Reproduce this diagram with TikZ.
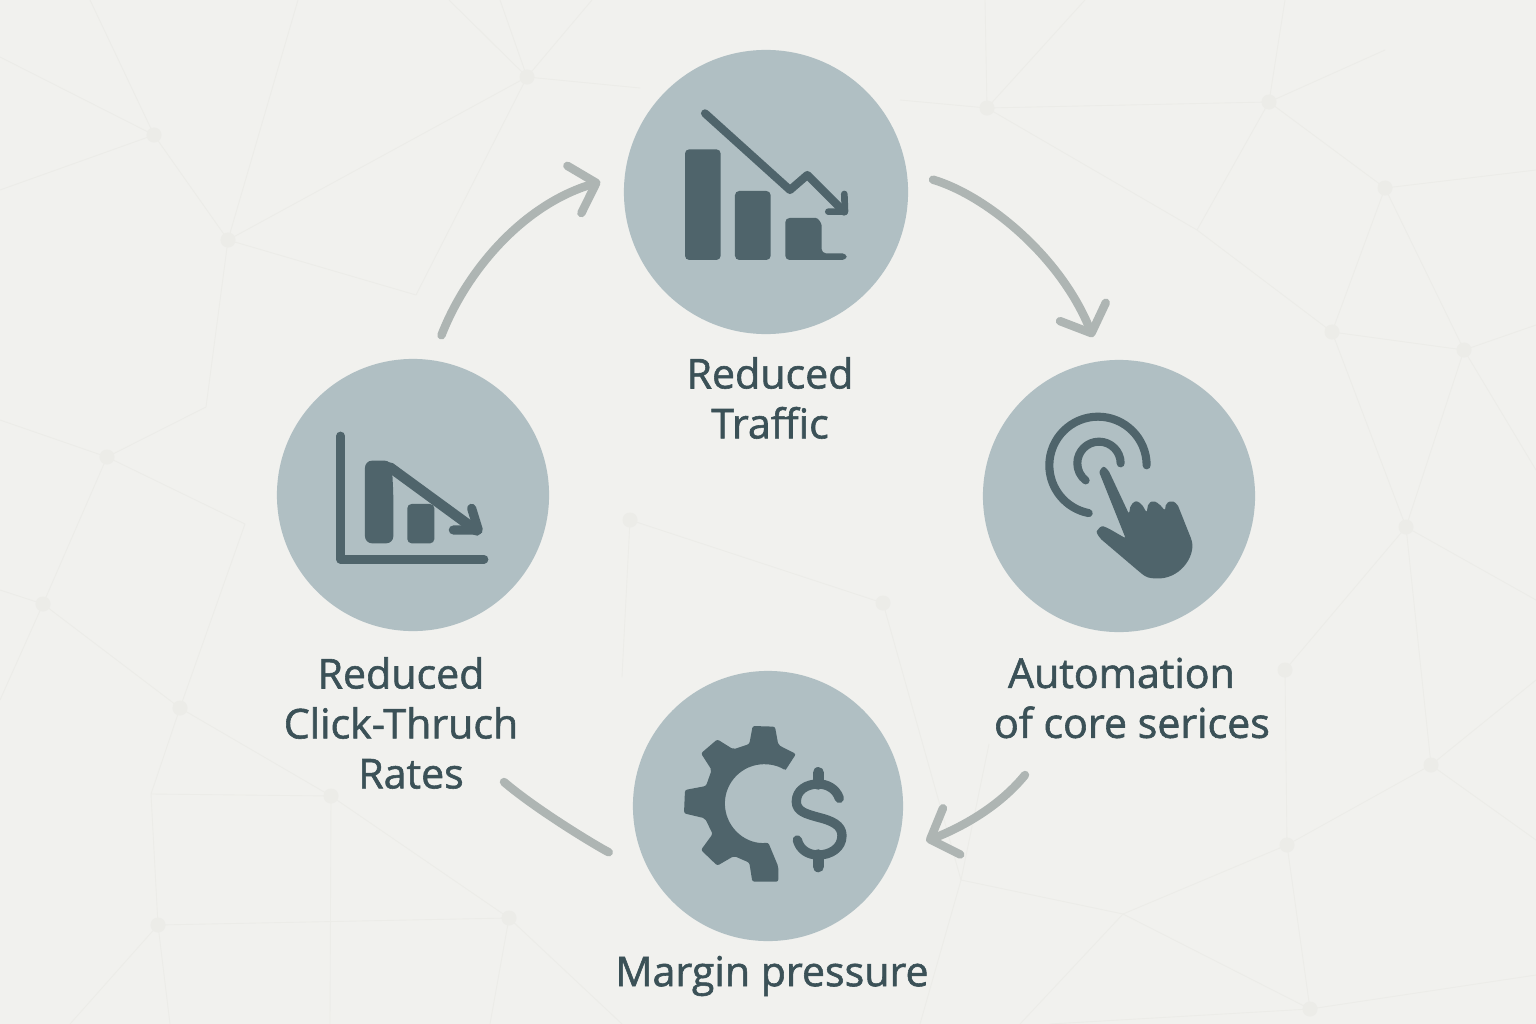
\documentclass[tikz,border=0pt]{standalone}
\usepackage{fontspec}
\setmainfont{Open Sans}
\newfontfamily\labelfont[FakeBold=1.4]{Open Sans}
\usetikzlibrary{arrows.meta}
\definecolor{paper}{HTML}{F1F1EE}
\definecolor{disc}{HTML}{B0BFC3}
\definecolor{glyph}{HTML}{4F646B}
\definecolor{ink}{HTML}{3B5157}
\definecolor{flowgray}{HTML}{AEB5B3}
\definecolor{meshgray}{HTML}{ECECE8}
\tikzset{
  stage/.style={circle,fill=disc,inner sep=0pt,minimum size=2.72cm},
  stagelabel/.style={align=center,text=ink,font=\labelfont\fontsize{11.7}{14.2}\selectfont},
  flow/.style={draw=flowgray,line width=2.4pt,line cap=round,
    -{Straight Barb[length=6.5pt,width=14pt,round]}},
  flowplain/.style={draw=flowgray,line width=2.4pt,line cap=round},
  icon/.style={fill=glyph,rounded corners=1.2pt},
  iconline/.style={draw=glyph,line cap=round,line join=round},
  meshline/.style={draw=meshgray,line width=0.25pt},
  meshdot/.style={circle,fill=meshgray,inner sep=0pt,minimum size=0.15cm}
}
\begin{document}
\begin{tikzpicture}[x=0.01cm,y=-0.01cm]
  \useasboundingbox (0,0) rectangle (1536,1024);
  \fill[paper] (0,0) rectangle (1536,1024);
  % Mesh
  \coordinate (ma) at (527,77);
  \coordinate (mb) at (154,135);
  \coordinate (mc) at (228,240);
  \coordinate (md) at (107,457);
  \coordinate (me) at (206,407);
  \coordinate (mf) at (43,604);
  \coordinate (mg) at (245,524);
  \coordinate (mh) at (180,708);
  \coordinate (mi) at (151,794);
  \coordinate (mj) at (331,796);
  \coordinate (mk) at (158,925);
  \coordinate (ml) at (509,918);
  \coordinate (mm) at (987,108);
  \coordinate (mn) at (1269,102);
  \coordinate (mo) at (1385,188);
  \coordinate (mp) at (1197,230);
  \coordinate (mq) at (1332,332);
  \coordinate (mr) at (1464,350);
  \coordinate (ms) at (1406,527);
  \coordinate (mt) at (1285,670);
  \coordinate (mu) at (1431,765);
  \coordinate (mv) at (1287,845);
  \coordinate (mw) at (1123,914);
  \coordinate (mx) at (961,880);
  \coordinate (my) at (1310,1009);
  \coordinate (mz) at (630,520);
  \coordinate (maa) at (883,603);
  \coordinate (mab) at (622,677);
  \coordinate (mac) at (416,295);
  \coordinate (mad) at (989,744);
  \draw[meshline] (ma) -- (mc) (ma) -- (mac) (mb) -- (mc) (mc) -- (me) (mc) -- (mac) (md) -- (me)
    (md) -- (mf) (md) -- (mg) (mf) -- (mh) (mg) -- (mh) (mh) -- (mi) (mh) -- (mj) (mi) -- (mj)
    (mi) -- (mk) (mj) -- (ml) (mk) -- (ml) (mm) -- (mn) (mm) -- (mp) (mn) -- (mo) (mn) -- (mp)
    (mo) -- (mq) (mo) -- (mr) (mp) -- (mq) (mq) -- (mr) (mq) -- (ms) (mr) -- (ms) (ms) -- (mt)
    (ms) -- (mu) (mt) -- (mv) (mu) -- (mv) (mv) -- (mw) (mv) -- (my) (mw) -- (mx) (mw) -- (my)
    (mx) -- (mad) (mz) -- (maa) (mz) -- (mab) (maa) -- (mx);
  \draw[meshline] (ma) -- (500,0) (ma) -- (449,0) (ma) -- (592,0) (ma) -- (640,88) (mb) -- (90,0)
    (mb) -- (0,57) (mb) -- (0,190) (mc) -- (298,0) (md) -- (0,420) (mf) -- (0,590) (mf) -- (0,700)
    (mj) -- (330,1024) (mk) -- (70,1024) (mk) -- (170,1024) (ml) -- (490,1024) (ml) -- (622,1024)
    (mm) -- (900,100) (mm) -- (985,0) (mm) -- (1085,0) (mn) -- (1285,0) (mn) -- (1385,50)
    (mo) -- (1536,170) (mr) -- (1536,325) (mr) -- (1536,470) (ms) -- (1536,600) (mu) -- (1536,840)
    (mu) -- (1536,680) (my) -- (1536,975) (my) -- (1050,1024) (mx) -- (920,1024) (mw) -- (1020,1024);
  \foreach \name in {ma,mb,mc,md,mf,mh,mj,mk,ml,mm,mn,mo,mq,mr,ms,mt,mu,mv,my,maa,mz}
    \node[meshdot] (dot\name) at (\name) {};
  % Stages
  \node[stage,minimum size=2.84cm] (traffic) at (766,192) {};
  \node[stage] (automation) at (1119,496) {};
  \node[stage,minimum size=2.7cm] (margin) at (768,806) {};
  \node[stage] (clicks) at (413,495) {};
  % Labels
  \node[stagelabel] (trafficlabel) at (770,398) {Reduced\\Traffic};
  \node[stagelabel] (automationlabel) at (1132,698) {Automation\hspace*{6pt}\\of core serices};
  \node[stagelabel] (marginlabel) at (772,976) {Margin pressure};
  \node[stagelabel] (clickslabel) at (401,723) {Reduced\\Click-Thruch\\\hspace*{5.7pt}Rates};
  % Connectors
  \coordinate (automationend) at (1025,775);
  \coordinate (clicksend) at (504,782);
  \draw[flow,shorten <=7.4pt,shorten >=7.1pt] (clicks.82) .. controls (466,272) and (522,205) .. (traffic.173);
  \draw[flow,shorten <=7.6pt,shorten >=7.1pt] (traffic.8) .. controls (985,195) and (1060,255) .. (automation.97);
  \draw[flow,shorten >=9.3pt] (automationend) .. controls (995,812) and (950,832) .. (margin.-20);
  \draw[flowplain,shorten <=12.8pt] (margin.209) .. controls (600,848) and (538,811) .. (clicksend);
  % Falling bars
  \begin{scope}[shift={(620,60)},scale=0.3333]
    \fill[icon] (195,268) rectangle (302,600);
    \fill[icon] (345,393) rectangle (452,600);
    \fill[icon] (496,474) -- (575,474) .. controls (595,474) and (605,490) .. (605,510)
      -- (605,580) -- (680,580) -- (680,600) -- (496,600) -- cycle;
    \draw[iconline,line width=2.3pt] (255,160) -- (510,390) -- (562,345) -- (672,455);
    \draw[iconline,line width=1.9pt] (625,455) -- (675,455) -- (673,402);
  \end{scope}
  % Pointing hand
  \begin{scope}[shift={(980,360)},scale=0.3333]
    \draw[iconline,line width=2.3pt] (500,316) arc (0:-259:146);
    \draw[iconline,line width=2.3pt] (422,310) arc (0:-232:65);
    \fill[icon,rounded corners=0.6pt] (357,335) -- (370,318) -- (385,330) -- (447,462) -- (452,435)
      -- (468,422) -- (485,432) -- (500,458) -- (505,430) -- (520,422) -- (538,432) -- (555,452)
      -- (558,430) -- (575,422) -- (592,432) -- (635,540)
      .. controls (645,590) and (600,660) .. (520,655) .. controls (500,653) and (490,645) .. (480,637)
      -- (360,535) -- (348,515) -- (365,497) -- (385,505) -- (437,535) -- cycle;
  \end{scope}
  % Gear and dollar
  \begin{scope}[shift={(630,670)},scale=0.3333]
    \fill[icon,rounded corners=0.6pt] (470,295) -- (498,252) -- (445,225) -- (435,170) -- (368,168) -- (358,222)
      -- (310,238) -- (262,208) -- (213,250) -- (245,300) -- (228,348) -- (165,360) -- (162,430)
      -- (225,445) -- (248,492) -- (213,540) -- (262,587) -- (312,558) -- (358,578) -- (367,635)
      -- (445,635) -- (445,590) -- (415,518) arc (84:302.5:118) -- cycle;
    \draw[iconline,line width=2.65pt] (628,385) .. controls (618,355) and (590,342) .. (565,342)
      .. controls (530,342) and (499,360) .. (499,395) .. controls (499,425) and (530,432) .. (565,442)
      .. controls (605,452) and (636,465) .. (636,497) .. controls (636,535) and (600,555) .. (565,555)
      .. controls (535,555) and (510,540) .. (502,510);
    \draw[iconline,line width=3.2pt] (565,308) -- (565,342);
    \draw[iconline,line width=3.2pt] (565,555) -- (565,590);
  \end{scope}
  % Falling chart
  \begin{scope}[shift={(275,360)},scale=0.3333]
    \draw[iconline,line width=2.5pt] (197,228) -- (197,598) -- (627,598);
    \fill[icon,rounded corners=2pt] (270,550) -- (270,302) -- (350,302) -- (355,400) -- (355,550) -- cycle;
    \fill[icon] (397,432) rectangle (478,550);
    \draw[iconline,line width=2.9pt] (345,322) -- (605,512);
    \draw[iconline,line width=2.6pt] (590,445) -- (610,510) -- (535,510);
  \end{scope}
\end{tikzpicture}
\end{document}
